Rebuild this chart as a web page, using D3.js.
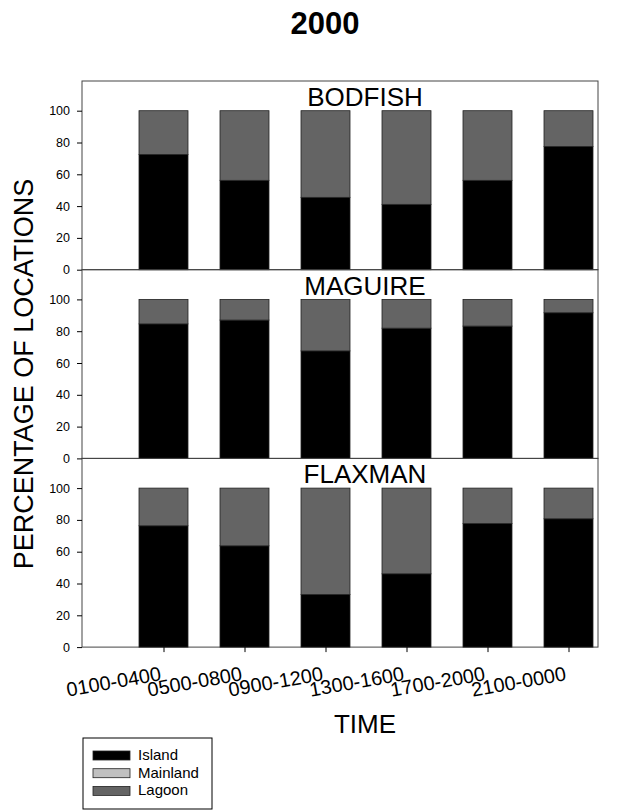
<!DOCTYPE html>
<html>
<head>
<meta charset="utf-8">
<script src="https://cdn.jsdelivr.net/npm/d3@7"></script>
<style>
  body { margin: 0; background: #fff; }
  svg { font-family: Arial, "Liberation Sans", sans-serif; }
  .axis path, .axis line { stroke: #000; }
</style>
</head>
<body>
<div id="container"></div>
<script>
// time of day bins
var timeBins = ["0100-0400", "0500-0800", "0900-1200", "1300-1600", "1700-2000", "2100-0000"];
var sites = ["BODFISH", "MAGUIRE", "FLAXMAN"];
var habitats = ["Island", "Mainland", "Lagoon"];
var yTicks = [0, 20, 40, 60, 80, 100];

// percentage of locations per habitat
var bodfishIsland   = [72.5, 56.2, 45.5, 41.1, 56.2, 77.5];
var bodfishMainland = [0, 0, 0, 0, 0, 0];
var bodfishLagoon   = [27.5, 43.8, 54.5, 58.9, 43.8, 22.5];

var maguireIsland   = [84.6, 87.0, 67.6, 81.9, 83.2, 91.6];
var maguireMainland = [0, 0, 0, 0, 0, 0];
var maguireLagoon   = [15.4, 13.0, 32.4, 18.1, 16.8, 8.4];

var flaxmanIsland   = [76.3, 63.7, 33.1, 46.1, 77.7, 80.7];
var flaxmanMainland = [0, 0, 0, 0, 0, 0];
var flaxmanLagoon   = [23.7, 36.3, 66.9, 53.9, 22.3, 19.3];

var siteSeries = {
    BODFISH: [bodfishIsland, bodfishMainland, bodfishLagoon],
    MAGUIRE: [maguireIsland, maguireMainland, maguireLagoon],
    FLAXMAN: [flaxmanIsland, flaxmanMainland, flaxmanLagoon]
};

var colors = d3.scaleOrdinal()
    .domain(habitats)
    .range(["#000000", "#c0c0c0", "#646464"]);

var width = 639, height = 810;
var left = 82, right = 598;
var panelTop = 81, panelH = 188.7;
var plotH = 159; // pixels for 0..100
var textX = 365;

var svg = d3.select("#container").append("svg")
    .attr("width", width)
    .attr("height", height);

svg.append("text")
    .attr("x", 325).attr("y", 34)
    .attr("text-anchor", "middle")
    .style("font-size", "31px").style("font-weight", "bold")
    .text("2000");

var x = d3.scalePoint()
    .domain(timeBins)
    .range([163.5, 568.5]);
var barW = 49;

var stack = d3.stack().keys(habitats);

sites.forEach(function(site, si) {
    var top = panelTop + si * panelH;
    var bottom = top + panelH;
    var y = d3.scaleLinear().domain([0, 100]).range([bottom, bottom - plotH]);

    var rows = timeBins.map(function(t, i) {
        var r = { time: t };
        habitats.forEach(function(h, hi) { r[h] = siteSeries[site][hi][i]; });
        return r;
    });

    var g = svg.append("g").attr("class", "panel");

    g.append("rect")
        .attr("x", left).attr("y", top)
        .attr("width", right - left).attr("height", panelH)
        .attr("fill", "none").attr("stroke", "#444").attr("stroke-width", 1);

    g.selectAll(".layer")
        .data(stack(rows))
        .enter().append("g")
        .attr("class", "layer")
        .attr("fill", function(d) { return colors(d.key); })
        .selectAll("rect")
        .data(function(d) { return d; })
        .enter().append("rect")
        .attr("x", function(d) { return x(d.data.time) - barW / 2; })
        .attr("y", function(d) { return y(d[1]); })
        .attr("width", barW)
        .attr("height", function(d) { return y(d[0]) - y(d[1]); })
        .attr("stroke", function(d) { return d[1] > d[0] ? "#222" : "none"; })
        .attr("stroke-width", 0.8);

    var yAxis = d3.axisLeft(y).tickValues(yTicks).tickSize(5).tickPadding(7);
    g.append("g")
        .attr("class", "axis")
        .attr("transform", "translate(" + left + ",0)")
        .call(yAxis)
        .call(function(a) { a.select(".domain").remove(); })
        .selectAll("text")
        .style("font-size", "12.5px").style("font-family", "Arial, 'Liberation Sans', sans-serif");

    g.append("text")
        .attr("x", textX).attr("y", top + 25)
        .attr("text-anchor", "middle")
        .style("font-size", "26px")
        .text(site);

    if (si === sites.length - 1) {
        var xAxis = d3.axisBottom(x).tickSize(5).tickPadding(0);
        var xa = g.append("g")
            .attr("class", "axis")
            .attr("transform", "translate(0," + bottom + ")")
            .call(xAxis);
        xa.select(".domain").remove();
        xa.selectAll("text")
            .style("font-size", "20px").style("font-family", "Arial, 'Liberation Sans', sans-serif")
            .attr("text-anchor", "end")
            .attr("y", 0)
            .attr("dy", null)
            .attr("transform", "translate(-2,33) rotate(-10)");
    }
});

svg.append("text")
    .attr("transform", "translate(33,374) rotate(-90)")
    .attr("text-anchor", "middle")
    .style("font-size", "27px")
    .text("PERCENTAGE OF LOCATIONS");

svg.append("text")
    .attr("x", textX).attr("y", 733)
    .attr("text-anchor", "middle")
    .style("font-size", "26px")
    .text("TIME");

// legend
var legend = svg.append("g").attr("transform", "translate(83,738)");
legend.append("rect")
    .attr("width", 129).attr("height", 71)
    .attr("fill", "#fff").attr("stroke", "#000").attr("stroke-width", 1);
var item = legend.selectAll(".item")
    .data(habitats)
    .enter().append("g")
    .attr("class", "item")
    .attr("transform", function(d, i) { return "translate(10," + (13 + i * 17.7) + ")"; });
item.append("rect")
    .attr("width", 37).attr("height", 9)
    .attr("fill", function(d) { return colors(d); })
    .attr("stroke", "#222").attr("stroke-width", 0.8);
item.append("text")
    .attr("x", 45).attr("y", 9)
    .style("font-size", "15px")
    .text(function(d) { return d; });
</script>
</body>
</html>
